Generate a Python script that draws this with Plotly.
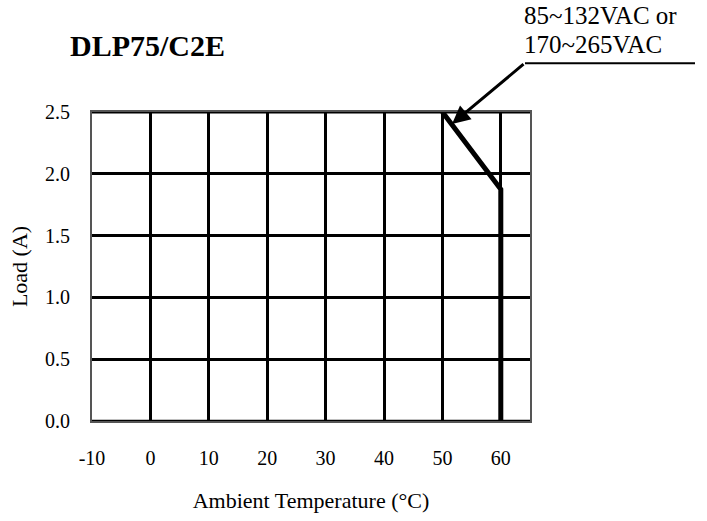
import plotly.graph_objects as go

# Data
temps = [50, 60, 60]
loads = [2.5, 1.875, 0.0]
x_ticks = [-10, 0, 10, 20, 30, 40, 50, 60]
y_ticks = [0.0, 0.5, 1.0, 1.5, 2.0, 2.5]
title_text = "DLP75/C2E"
note_lines = ["85~132VAC or", "170~265VAC"]

FONT = "Liberation Serif, Times New Roman, serif"

fig = go.Figure()
fig.add_trace(go.Scatter(x=temps, y=loads, mode="lines",
                         line=dict(color="black", width=5),
                         showlegend=False, hoverinfo="skip"))

W, H = 707, 521
L, R, T, B = 92, 177, 112, 98
pw, ph = W - L - R, H - T - B

def px_to_paper(px, py):
    return (px - L) / pw, (H - B - py) / ph

fig.update_layout(
    width=W, height=H,
    margin=dict(l=L, r=R, t=T, b=B),
    plot_bgcolor="white", paper_bgcolor="white",
    font=dict(family=FONT, size=20, color="black"),
    xaxis=dict(range=[-10, 65], tickvals=x_ticks, ticktext=[str(v) for v in x_ticks],
               showgrid=True, gridcolor="black", gridwidth=3, zeroline=False,
               showline=True, linecolor="#555", linewidth=2, mirror=True,
               ticks="", ticklabelstandoff=18, tickfont=dict(size=20),
               title=dict(text="Ambient Temperature (°C)", font=dict(size=22), standoff=25)),
    yaxis=dict(range=[0, 2.5], tickvals=y_ticks, ticktext=[f"{v:.1f}" for v in y_ticks],
               showgrid=True, gridcolor="black", gridwidth=3, zeroline=False,
               showline=True, linecolor="#555", linewidth=2, mirror=True,
               ticks="", ticklabelstandoff=16, tickfont=dict(size=20),
               title=dict(text="Load (A)", font=dict(size=22), standoff=11)),
)

# thick top and bottom border lines
fig.add_shape(type="line", xref="x", yref="y", x0=-10, x1=65, y0=2.5, y1=2.5,
              line=dict(color="black", width=3))
fig.add_shape(type="line", xref="x", yref="y", x0=-10, x1=65, y0=0, y1=0,
              line=dict(color="black", width=2.5))

tx, ty = px_to_paper(68, 45)
fig.add_annotation(xref="paper", yref="paper", x=tx, y=ty, text=f"<b>{title_text}</b>",
                   showarrow=False, xanchor="left", yanchor="middle",
                   font=dict(size=30, family=FONT))

for line, py in zip(note_lines, [15, 44]):
    nx, ny = px_to_paper(522, py)
    fig.add_annotation(xref="paper", yref="paper", x=nx, y=ny, text=line,
                       showarrow=False, xanchor="left", yanchor="middle",
                       font=dict(size=25, family=FONT))

ux0, uy = px_to_paper(525, 63)
ux1, _ = px_to_paper(695, 63)
fig.add_shape(type="line", xref="paper", yref="paper", x0=ux0, x1=ux1, y0=uy, y1=uy,
              line=dict(color="black", width=2))

hx, hy = px_to_paper(452, 124)
fig.add_annotation(xref="paper", yref="paper", x=hx, y=hy, ax=73, ay=-61,
                   axref="pixel", ayref="pixel", text="", showarrow=True,
                   arrowhead=2, arrowsize=1.2, arrowwidth=3, arrowcolor="black")

fig.write_html("out.html", config={"displayModeBar": False},
               post_script="document.body.style.margin='0';")
